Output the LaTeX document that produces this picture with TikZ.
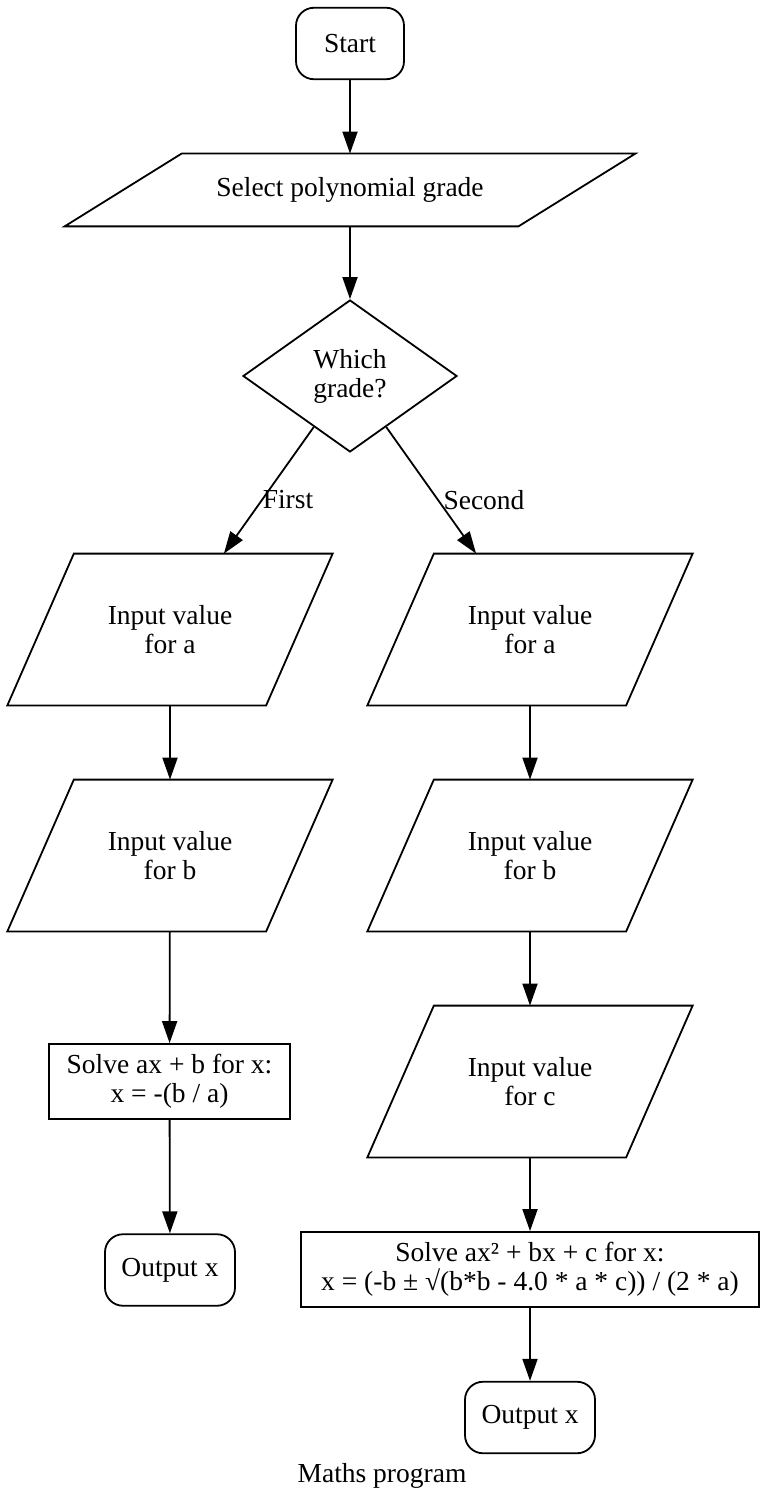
\documentclass[tikz,border=0pt]{standalone}
\usepackage{fontspec}
\setmainfont{Liberation Serif}
\usetikzlibrary{shapes.geometric,arrows.meta}
\newcommand\drawpara[2]{%
  \draw[line width=0.9pt, line join=miter]
    ([xshift=#2/2]#1.north west) -- ([xshift=#2/2]#1.north east) --
    ([xshift=-#2/2]#1.south east) -- ([xshift=-#2/2]#1.south west) -- cycle;}
\begin{document}
\begin{tikzpicture}[x=0.5pt,y=-0.5pt,
  every node/.style={font=\fontsize{13.75pt}{14.5pt}\selectfont, align=center, inner sep=0pt},
  term/.style={draw, line width=0.9pt, rounded corners=9pt, minimum width=#1, minimum height=35.75pt},
  io/.style={rectangle, minimum width=129pt, minimum height=75.5pt},
  proc/.style={draw, line width=0.9pt, rectangle, minimum width=#1, minimum height=37.5pt},
  conn/.style={line width=0.9pt, -{Triangle[length=11pt,width=7.5pt]}},
  lbl/.style={}
]
\useasboundingbox (0,0) rectangle (767,1508);

\node[term=54pt] (start) at (350,43.5) {Start};
\node[rectangle, minimum width=226.5pt, minimum height=36pt] (sel) at (350,190) {Select polynomial grade};
\drawpara{sel}{58.5pt}
\node[draw, line width=0.9pt, diamond, minimum width=107pt, minimum height=76pt] (dia) at (350,376) {Which\\grade?};

\node[io] (la) at (170,629.5) {Input value\\for a};
\drawpara{la}{33.25pt}
\node[io] (lb) at (170,855.5) {Input value\\for b};
\drawpara{lb}{33.25pt}
\node[proc=120.5pt] (ls) at (169.5,1081.5) {Solve ax + b for x:\\x = -(b / a)};
\node[term=65pt] (lo) at (170,1270) {Output x};

\node[io] (ra) at (530,629.5) {Input value\\for a};
\drawpara{ra}{33.25pt}
\node[io] (rb) at (530,855.5) {Input value\\for b};
\drawpara{rb}{33.25pt}
\node[io] (rc) at (530,1081.5) {Input value\\for c};
\drawpara{rc}{33.25pt}
\node[proc=229pt] (rs) at (530,1269.5) {Solve ax² + bx + c for x:\\x = (-b ± √(b*b - 4.0 * a * c)) / (2 * a)};
\node[term=65pt] (ro) at (530,1417.5) {Output x};

\node[anchor=base] (cap) at (382,1482) {Maths program};

\draw[conn] (start) -- (sel);
\draw[conn] (sel) -- (dia);
\draw[conn] (dia) -- (la);
\draw[conn] (dia) -- (ra);
\node[lbl] (lfirst) at (288,500) {First};
\node[lbl] (lsecond) at (484,500) {Second};
\draw[conn] (la) -- (lb);
\draw[conn] (lb) -- (ls);
\draw[conn] (ls) -- (lo);
\draw[conn] (ra) -- (rb);
\draw[conn] (rb) -- (rc);
\draw[conn] (rc) -- (rs);
\draw[conn] (rs) -- (ro);
\end{tikzpicture}
\end{document}
